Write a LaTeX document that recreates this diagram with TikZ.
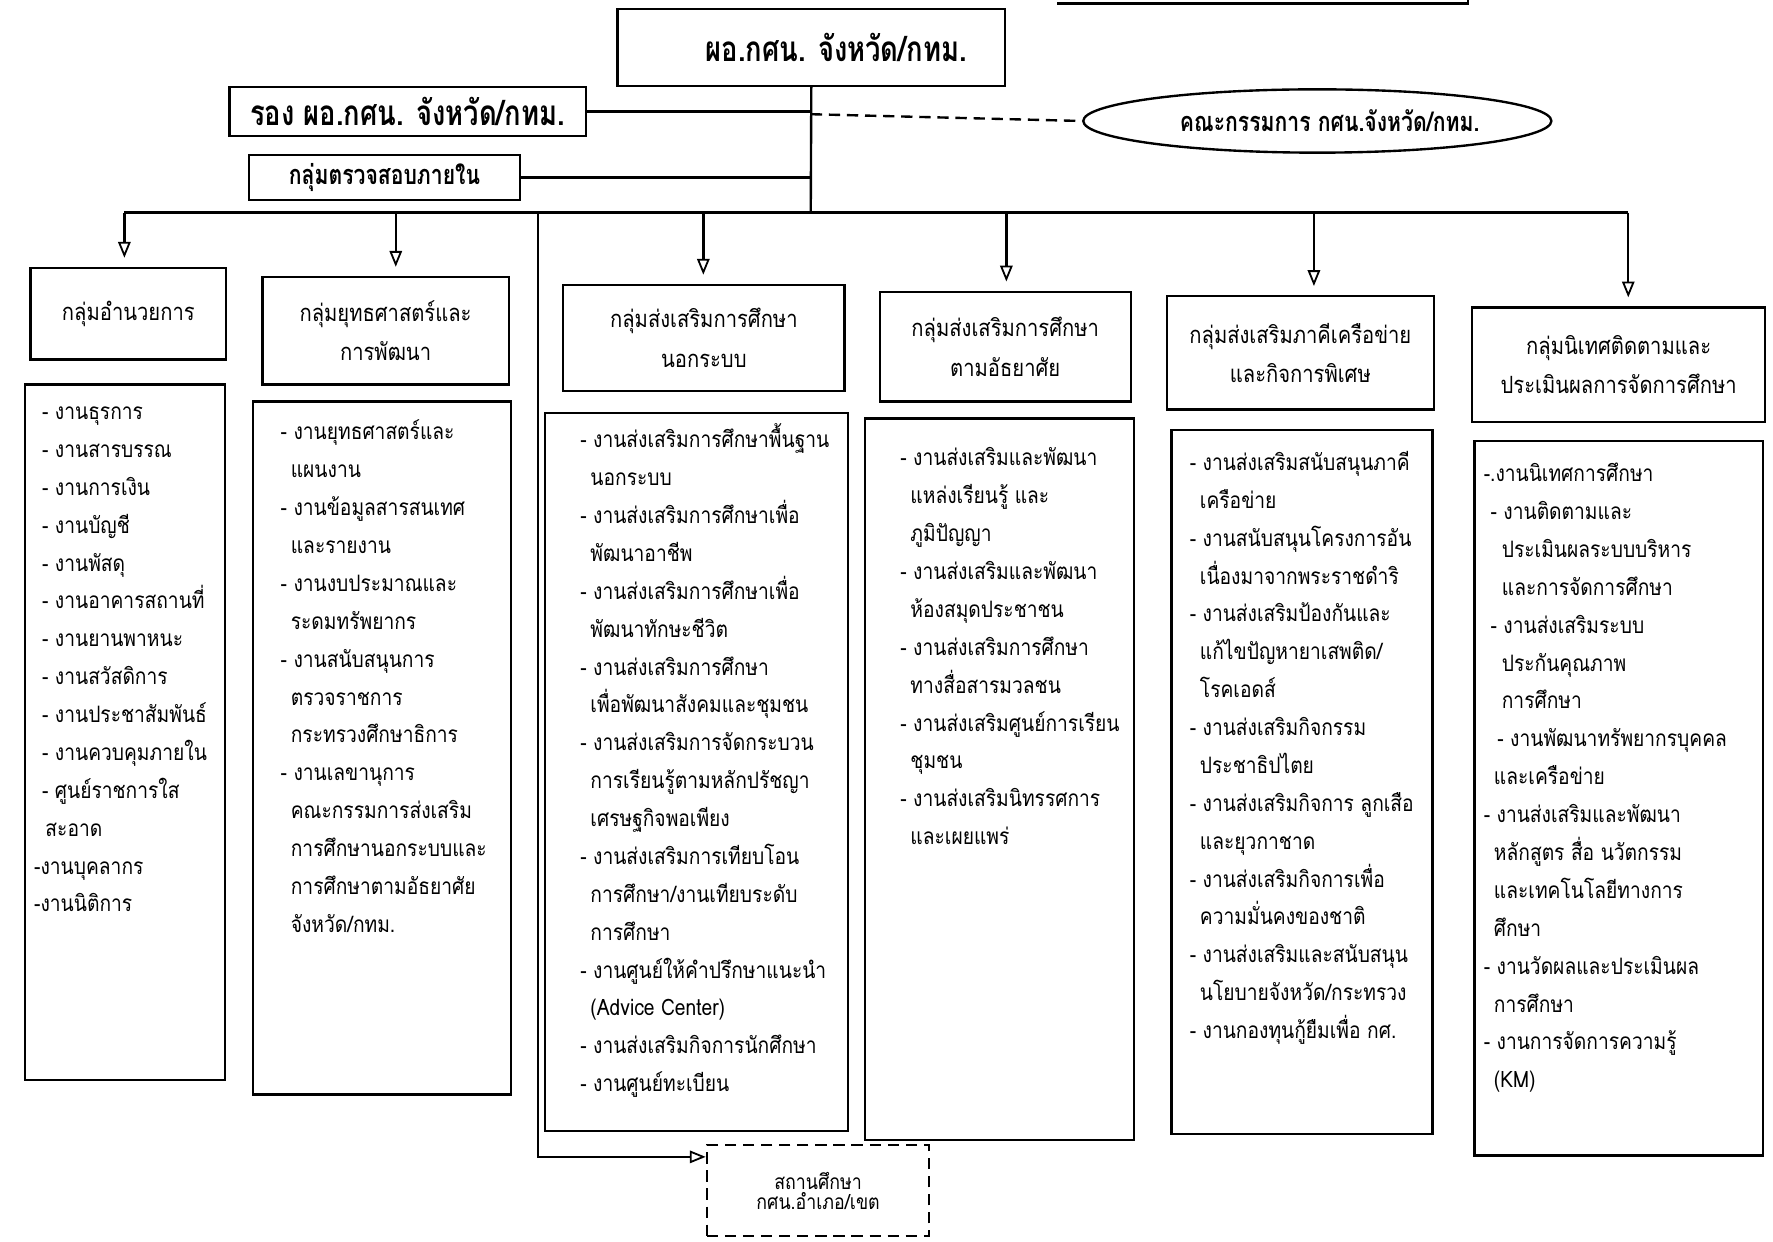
\documentclass[tikz,border=0pt]{standalone}
\usepackage{fontspec}
\setmainfont[Script=Thai]{Loma}
\newfontfamily\bodyf[Script=Thai,FakeStretch=0.85]{Loma}
\newfontfamily\condf[Script=Thai,FakeStretch=0.78]{Loma}
\newfontfamily\condg[Script=Thai,FakeStretch=0.78]{Loma}
\usetikzlibrary{arrows.meta,shapes.geometric,calc}
\newcommand\tlist[1]{\begin{tabular}[t]{@{}l@{}}#1\end{tabular}}
\newcommand\ci{\hspace*{9pt}}
\tikzset{
  ln/.style={line width=2.1pt},
  arr/.style={line width=2.1pt,-{Triangle[open,length=14pt,width=11pt,line width=1.6pt]},shorten >=8pt},
  boxs/.style={draw,line width=2.1pt,inner sep=0pt,align=center},
  hdr/.style={boxs,font=\bodyf\fontsize{21}{35}\selectfont},
  topt/.style={boxs,font=\condf\bfseries\fontsize{31}{36}\selectfont},
  tx/.style={anchor=base west,inner sep=0pt,font=\bodyf\fontsize{20}{33.5}\selectfont},
}
\begin{document}
\begin{tikzpicture}[x=1pt,y=-1pt]
\fill[white] (0,0) rectangle (1568,1098);
\useasboundingbox (0,0) rectangle (1568,1098);
% partial box at top edge
\draw[ln] (935,3) -- (1298,3) -- (1298,-2);
% top level
\node[topt,minimum width=343,minimum height=68] (top) at (717.5,42) {\hspace*{44pt}ผอ.กศน. จังหวัด/กทม.};
\node[topt,minimum width=315,minimum height=43,font=\condg\bfseries\fontsize{31}{34}\selectfont] (rong) at (360.5,98.5) {รอง ผอ.กศน. จังหวัด/กทม.};
\node[topt,minimum width=240,minimum height=40,font=\condg\bfseries\fontsize{24}{28}\selectfont] (audit) at (340,157) {กลุ่มตรวจสอบภายใน};
\node[ellipse,draw,line width=2.1pt,inner sep=0pt,minimum width=414,minimum height=56,font=\condg\bfseries\fontsize{24}{28}\selectfont] (board) at (1165,107) {\hspace*{22pt}คณะกรรมการ กศน.จังหวัด/กทม.};
% bus coordinates
\coordinate (tj) at (717,188);
\coordinate (b1) at (110,188);
\coordinate (b2) at (350,188);
\coordinate (bv) at (476,188);
\coordinate (b3) at (622,188);
\coordinate (b4) at (890,188);
\coordinate (b5) at (1162,188);
\coordinate (b6) at (1440,188);
% group headers
\node[hdr,minimum width=173,minimum height=81] (h1) at (113.5,277.5) {กลุ่มอำนวยการ};
\node[hdr,minimum width=218,minimum height=95] (h2) at (341,292.5) {กลุ่มยุทธศาสตร์และ\\การพัฒนา};
\node[hdr,minimum width=249,minimum height=94] (h3) at (622.5,299) {กลุ่มส่งเสริมการศึกษา\\นอกระบบ};
\node[hdr,minimum width=222,minimum height=97] (h4) at (889,306.5) {กลุ่มส่งเสริมการศึกษา\\ตามอัธยาศัย};
\node[hdr,minimum width=236,minimum height=100] (h5) at (1150,312) {กลุ่มส่งเสริมภาคีเครือข่าย\\และกิจการพิเศษ};
\node[hdr,minimum width=259,minimum height=101] (h6) at (1431.5,322.5) {กลุ่มนิเทศติดตามและ\\ประเมินผลการจัดการศึกษา};
% content boxes
\node[boxs,minimum width=177,minimum height=615] (c1) at (110.5,647.5) {};
\node[boxs,minimum width=228,minimum height=613] (c2) at (338,661.5) {};
\node[boxs,minimum width=268,minimum height=635] (c3) at (616,682.5) {};
\node[boxs,minimum width=238,minimum height=638] (c4) at (884,689) {};
\node[boxs,minimum width=231,minimum height=623] (c5) at (1151.5,691.5) {};
\node[boxs,minimum width=255,minimum height=632] (c6) at (1431.5,706) {};
% content texts
\node[tx] (t1) at (37,371) {\tlist{%
- งานธุรการ\\
- งานสารบรรณ\\
- งานการเงิน\\
- งานบัญชี\\
- งานพัสดุ\\
- งานอาคารสถานที่\\
- งานยานพาหนะ\\
- งานสวัสดิการ\\
- งานประชาสัมพันธ์\\
- งานควบคุมภายใน\\
- ศูนย์ราชการใส\\
\hspace*{3pt}สะอาด\\
\hspace*{-7pt}-งานบุคลากร\\
\hspace*{-7pt}-งานนิติการ}};
\node[tx] (t2) at (248,389) {\tlist{%
- งานยุทธศาสตร์และ\\
\ci แผนงาน\\
- งานข้อมูลสารสนเทศ\\
\ci และรายงาน\\
- งานงบประมาณและ\\
\ci ระดมทรัพยากร\\
- งานสนับสนุนการ\\
\ci ตรวจราชการ\\
\ci กระทรวงศึกษาธิการ\\
- งานเลขานุการ\\
\ci คณะกรรมการส่งเสริม\\
\ci การศึกษานอกระบบและ\\
\ci การศึกษาตามอัธยาศัย\\
\ci จังหวัด/กทม.}};
\node[tx] (t3) at (513,396) {\tlist{%
- งานส่งเสริมการศึกษาพื้นฐาน\\
\ci นอกระบบ\\
- งานส่งเสริมการศึกษาเพื่อ\\
\ci พัฒนาอาชีพ\\
- งานส่งเสริมการศึกษาเพื่อ\\
\ci พัฒนาทักษะชีวิต\\
- งานส่งเสริมการศึกษา\\
\ci เพื่อพัฒนาสังคมและชุมชน\\
- งานส่งเสริมการจัดกระบวน\\
\ci การเรียนรู้ตามหลักปรัชญา\\
\ci เศรษฐกิจพอเพียง\\
- งานส่งเสริมการเทียบโอน\\
\ci การศึกษา/งานเทียบระดับ\\
\ci การศึกษา\\
- งานศูนย์ให้คำปรึกษาแนะนำ\\
\ci (Advice Center)\\
- งานส่งเสริมกิจการนักศึกษา\\
- งานศูนย์ทะเบียน}};
\node[tx] (t4) at (796,412) {\tlist{%
- งานส่งเสริมและพัฒนา\\
\ci แหล่งเรียนรู้ และ\\
\ci ภูมิปัญญา\\
- งานส่งเสริมและพัฒนา\\
\ci ห้องสมุดประชาชน\\
- งานส่งเสริมการศึกษา\\
\ci ทางสื่อสารมวลชน\\
- งานส่งเสริมศูนย์การเรียน\\
\ci ชุมชน\\
- งานส่งเสริมนิทรรศการ\\
\ci และเผยแพร่}};
\node[tx] (t5) at (1052,416) {\tlist{%
- งานส่งเสริมสนับสนุนภาคี\\
\ci เครือข่าย\\
- งานสนับสนุนโครงการอัน\\
\ci เนื่องมาจากพระราชดำริ\\
- งานส่งเสริมป้องกันและ\\
\ci แก้ไขปัญหายาเสพติด/\\
\ci โรคเอดส์\\
- งานส่งเสริมกิจกรรม\\
\ci ประชาธิปไตย\\
- งานส่งเสริมกิจการ ลูกเสือ\\
\ci และยุวกาชาด\\
- งานส่งเสริมกิจการเพื่อ\\
\ci ความมั่นคงของชาติ\\
- งานส่งเสริมและสนับสนุน\\
\ci นโยบายจังหวัด/กระทรวง\\
- งานกองทุนกู้ยืมเพื่อ กศ.}};
\node[tx] (t6) at (1312,426) {\tlist{%
-.งานนิเทศการศึกษา\\
\hspace*{6pt}- งานติดตามและ\\
\hspace*{16pt}ประเมินผลระบบบริหาร\\
\hspace*{16pt}และการจัดการศึกษา\\
\hspace*{6pt}- งานส่งเสริมระบบ\\
\hspace*{16pt}ประกันคุณภาพ\\
\hspace*{16pt}การศึกษา\\
\hspace*{12pt}- งานพัฒนาทรัพยากรบุคคล\\
\hspace*{9pt}และเครือข่าย\\
- งานส่งเสริมและพัฒนา\\
\ci หลักสูตร สื่อ นวัตกรรม\\
\ci และเทคโนโลยีทางการ\\
\ci ศึกษา\\
- งานวัดผลและประเมินผล\\
\ci การศึกษา\\
- งานการจัดการความรู้\\
\ci (KM)}};
% district school
\node[draw,dashed,dash pattern=on 10pt off 6pt,line width=1.8pt,inner sep=0pt,align=center,minimum width=197,minimum height=80,font=\bodyf\fontsize{18.5}{18}\selectfont] (school) at (723.5,1053) {สถานศึกษา\\กศน.อำเภอ/เขต};
% connectors
\draw[ln] (top.south) -- (tj);
\draw[ln] (rong.east) -- (rong.east -| tj);
\draw[ln] (audit.east) -- (audit.east -| tj);
\draw[ln,dash pattern=on 10pt off 6pt] (717,101) coordinate (dj) -- (board.west);
\draw[ln] (b1) -- (b6);
\draw[arr] (b1) -- (b1 |- h1.north);
\draw[arr] (b2) -- (b2 |- h2.north);
\draw[arr] (b3) -- (b3 |- h3.north);
\draw[arr] (b4) -- (b4 |- h4.north);
\draw[arr] (b5) -- (b5 |- h5.north);
\draw[arr] (b6) -- (b6 |- h6.north);
\draw[arr,shorten >=0pt] (bv) |- ($(school.north west)+(0,11)$);
\end{tikzpicture}
\end{document}
